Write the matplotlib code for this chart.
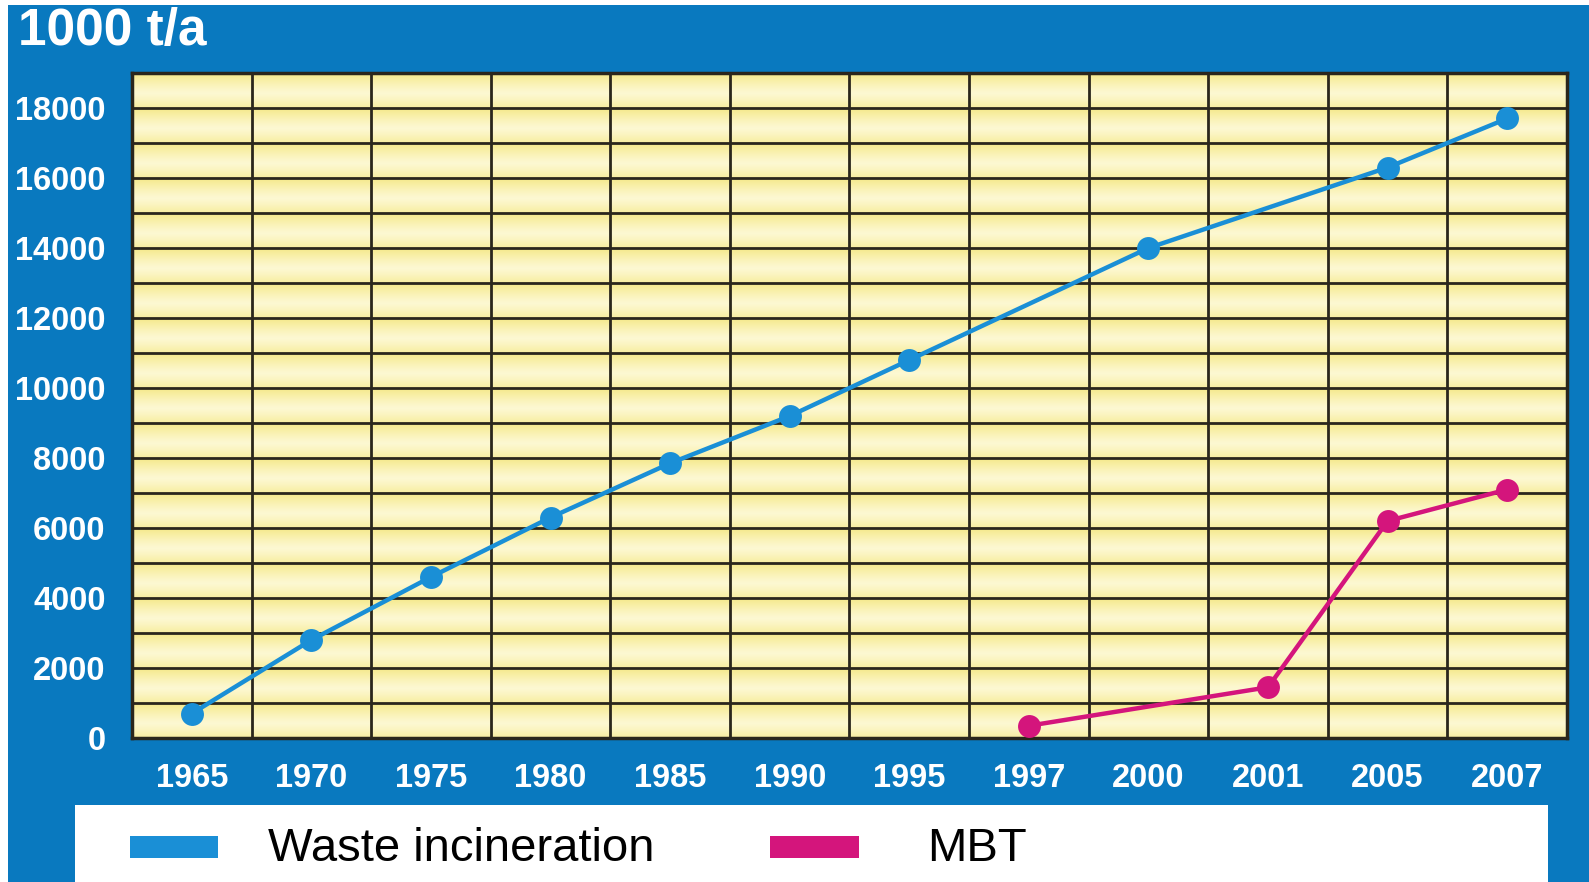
import numpy as np
import matplotlib
matplotlib.use("Agg")
import matplotlib.pyplot as plt
from matplotlib.colors import LinearSegmentedColormap
from matplotlib.patches import Rectangle

# Data (1000 t/a)
years = ["1965", "1970", "1975", "1980", "1985", "1990", "1995",
         "1997", "2000", "2001", "2005", "2007"]
waste_incineration = [700, 2800, 4600, 6300, 7850, 9200, 10800,
                      np.nan, 14000, np.nan, 16300, 17700]
mbt = [np.nan, np.nan, np.nan, np.nan, np.nan, np.nan, np.nan,
       350, np.nan, 1450, 6200, 7100]
y_ticks = [0, 2000, 4000, 6000, 8000, 10000, 12000, 14000, 16000, 18000]

BG_BLUE = "#0979BF"
LINE_BLUE = "#1A8FD6"
PINK = "#D4157C"
GRID = "#2A261C"
FONT = "Liberation Sans"

W, H = 1589, 882
fig = plt.figure(figsize=(W / 100, H / 100), dpi=100)
fig.patch.set_facecolor("white")

# blue panel (thin white margin at left and top)
fig.patches.append(Rectangle((8 / W, 0), 1 - 8 / W, 1 - 5 / H,
                             transform=fig.transFigure,
                             facecolor=BG_BLUE, edgecolor="none", zorder=-10))

left, right, top, bottom = 132, 1567, 73, 738
ax = fig.add_axes([left / W, 1 - bottom / H, (right - left) / W, (bottom - top) / H])
ax.set_zorder(5)
ymax = 19000
x = np.arange(len(years))
ax.set_xlim(-0.5, len(years) - 0.5)
ax.set_ylim(0, ymax)

# banded yellow background: each 1000-step band fades light in the middle
n_bands = ymax // 1000
rows = 40
s = np.linspace(1, 0, rows)  # 1 = top of band
yellowness = np.clip(np.abs(s - 0.42) / 0.58, 0, 1) ** 1.2
yellowness = 0.2 + 0.8 * yellowness
col = np.tile(yellowness, n_bands)[:, None]
cmap = LinearSegmentedColormap.from_list("band", ["#FFFCE4", "#F5E98A"])
ax.imshow(col, cmap=cmap, vmin=0, vmax=1, aspect="auto",
          extent=(-0.5, len(years) - 0.5, 0, ymax), zorder=0,
          interpolation="bilinear")

# grid
for yv in range(1000, ymax, 1000):
    ax.axhline(yv, color=GRID, lw=2.0, zorder=1)
for xv in np.arange(0.5, len(years) - 0.5, 1):
    ax.axvline(xv, color=GRID, lw=2.0, zorder=1)
for sp in ax.spines.values():
    sp.set_color(GRID)
    sp.set_linewidth(2.5)

# series
wi = np.array(waste_incineration, dtype=float)
m1 = ~np.isnan(wi)
ax.plot(x[m1], wi[m1], color=LINE_BLUE, lw=3.2, marker="o", ms=16.5,
        markeredgewidth=0, zorder=3, solid_capstyle="round")
mb = np.array(mbt, dtype=float)
m2 = ~np.isnan(mb)
ax.plot(x[m2], mb[m2], color=PINK, lw=3.2, marker="o", ms=16.5,
        markeredgewidth=0, zorder=3, solid_capstyle="round")

ax.set_xticks(x)
ax.set_xticklabels(years)
ax.set_yticks(y_ticks)
ax.set_yticklabels([str(v) for v in y_ticks])
ax.tick_params(axis="both", length=0, colors="white", labelsize=23.5)
ax.tick_params(axis="y", pad=19)
ax.tick_params(axis="x", pad=18)
for lab in ax.get_xticklabels() + ax.get_yticklabels():
    lab.set_fontfamily(FONT)
    lab.set_fontweight("bold")

# unit label
fig.text(18 / W, 1 - 45 / H, "1000 t/a", color="white", fontsize=37,
         fontweight="bold", family=FONT, ha="left", va="baseline")

# legend box
fig.patches.append(Rectangle((75 / W, 0), (1548 - 75) / W, (H - 805) / H,
                             transform=fig.transFigure, facecolor="white",
                             edgecolor="none", zorder=1))
fig.patches.append(Rectangle((130 / W, 1 - 858 / H), 88 / W, 22 / H,
                             transform=fig.transFigure, facecolor=LINE_BLUE,
                             edgecolor="none", zorder=2))
fig.patches.append(Rectangle((770 / W, 1 - 858 / H), 89 / W, 22 / H,
                             transform=fig.transFigure, facecolor=PINK,
                             edgecolor="none", zorder=2))
fig.text(268 / W, 1 - 861 / H, "Waste incineration", color="black",
         fontsize=34, family=FONT, ha="left", va="baseline", zorder=3)
fig.text(927 / W, 1 - 861 / H, "MBT", color="black",
         fontsize=34, family=FONT, ha="left", va="baseline", zorder=3)

fig.savefig("out.png", dpi=100, facecolor=fig.get_facecolor())
